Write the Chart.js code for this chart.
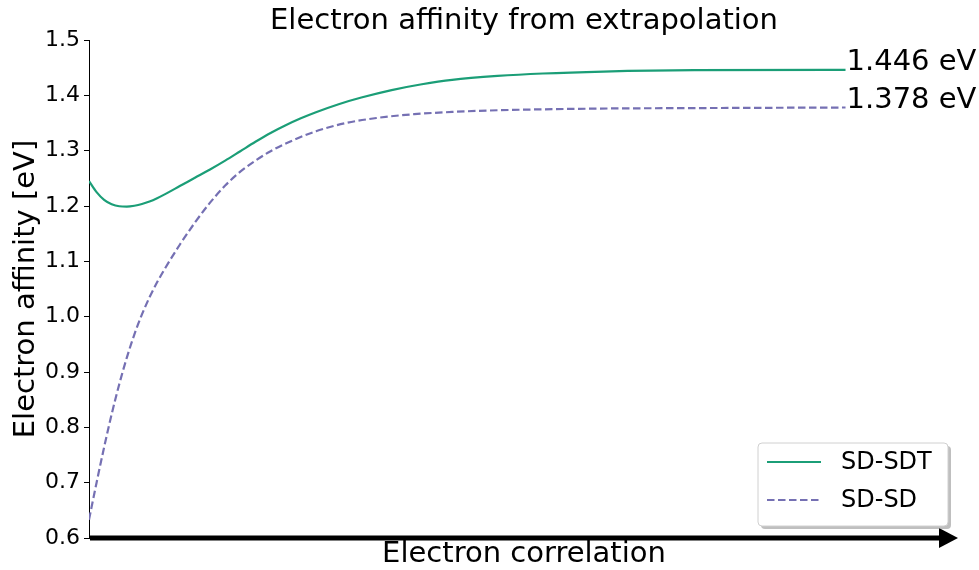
<!DOCTYPE html>
<html>
<head>
<meta charset="utf-8">
<script src="https://cdn.jsdelivr.net/npm/chart.js@4"></script>
<style>
  html, body { margin: 0; padding: 0; background: #fff; }
  #wrap { width: 979px; height: 570px; }
</style>
</head>
<body>
<div id="wrap"><canvas id="chart" width="979" height="570"></canvas></div>
<script>
// correlation level (arbitrary units, 0 = none, 100 = converged)
const sdsdtX = [0, 1, 2, 3, 4, 5, 6, 7, 8, 9, 10, 12, 14, 16, 18, 20, 22, 24, 26, 28, 30, 33, 36, 40, 44, 48, 54, 60, 68, 80, 100];
const sdsdtY = [1.245, 1.225, 1.211, 1.203, 1.1995, 1.199, 1.2005, 1.2035, 1.208, 1.214, 1.221, 1.236, 1.251, 1.266, 1.282, 1.299, 1.316, 1.332, 1.346, 1.3585, 1.3695, 1.384, 1.396, 1.4095, 1.420, 1.428, 1.435, 1.4395, 1.443, 1.4455, 1.446];

const sdsdX = [0, 1, 2, 3, 4, 5, 6, 7, 8, 9, 10, 12, 14, 16, 18, 20, 22, 24, 27, 30, 34, 38, 43, 48, 54, 67, 81, 100];
const sdsdY = [0.633, 0.700, 0.764, 0.824, 0.878, 0.926, 0.968, 1.004, 1.035, 1.062, 1.086, 1.130, 1.170, 1.206, 1.237, 1.262, 1.282, 1.299, 1.319, 1.335, 1.350, 1.359, 1.366, 1.370, 1.373, 1.376, 1.377, 1.378];

const seriesNames = ['SD-SDT', 'SD-SD'];
const seriesColors = ['#1b9e77', '#7570b3'];
const yTicks = { min: 0.6, max: 1.5, step: 0.1 };
const xRange = { min: 0, max: 115 };

const toPoints = (xs, ys) => xs.map((x, i) => ({ x: x, y: ys[i] }));

// arrow on the x axis + final-value labels + legend box
const decorations = {
    id: 'decorations',
    afterDatasetsDraw(chart) {
        const ctx = chart.ctx;
        const area = chart.chartArea;
        const xs = chart.scales.x;
        const ys = chart.scales.y;
        ctx.save();

        // axis arrow
        const ay = area.bottom;
        const tip = area.right - 1;
        ctx.strokeStyle = '#000';
        ctx.lineWidth = 5;
        ctx.beginPath();
        ctx.moveTo(area.left + 1, ay);
        ctx.lineTo(tip - 18, ay);
        ctx.stroke();
        ctx.fillStyle = '#000';
        ctx.beginPath();
        ctx.moveTo(tip, ay);
        ctx.lineTo(tip - 19, ay - 10);
        ctx.lineTo(tip - 19, ay + 10);
        ctx.closePath();
        ctx.fill();

        // value labels at the end of each curve
        ctx.font = '29px "DejaVu Sans"';
        ctx.textAlign = 'left';
        ctx.textBaseline = 'alphabetic';
        chart.data.datasets.forEach(ds => {
            const last = ds.data[ds.data.length - 1];
            ctx.fillText(last.y.toFixed(3) + ' eV', xs.getPixelForValue(last.x) + 1, ys.getPixelForValue(last.y));
        });

        // legend
        const bx = 758, by = 443, bw = 190, bh = 83, r = 4;
        const box = (x, y) => {
            ctx.beginPath();
            ctx.roundRect(x, y, bw, bh, r);
        };
        ctx.fillStyle = 'rgba(128,128,128,0.5)';
        box(bx + 3, by + 3);
        ctx.fill();
        ctx.fillStyle = '#fff';
        ctx.strokeStyle = '#d0d0d0';
        ctx.lineWidth = 1;
        box(bx, by);
        ctx.fill();
        ctx.stroke();

        ctx.font = '24px "DejaVu Sans"';
        ctx.textBaseline = 'middle';
        chart.data.datasets.forEach((ds, i) => {
            const ly = 462 + i * 38;
            ctx.strokeStyle = ds.borderColor;
            ctx.lineWidth = ds.borderWidth;
            ctx.setLineDash(ds.borderDash || []);
            ctx.beginPath();
            ctx.moveTo(767, ly);
            ctx.lineTo(821, ly);
            ctx.stroke();
            ctx.setLineDash([]);
            ctx.fillStyle = '#000';
            ctx.fillText(ds.label, 841, ly + 1);
        });
        ctx.restore();
    }
};

new Chart(document.getElementById('chart'), {
    type: 'line',
    data: {
        datasets: [
            {
                label: seriesNames[0],
                data: toPoints(sdsdtX, sdsdtY),
                borderColor: seriesColors[0],
                borderWidth: 2.2,
                pointRadius: 0,
                cubicInterpolationMode: 'monotone',
                fill: false,
            },
            {
                label: seriesNames[1],
                data: toPoints(sdsdX, sdsdY),
                borderColor: seriesColors[1],
                borderWidth: 2.2,
                borderDash: [7.5, 3.5],
                pointRadius: 0,
                cubicInterpolationMode: 'monotone',
                fill: false,
            },
        ],
    },
    options: {
        responsive: false,
        animation: false,
        layout: {
            padding: { left: 0, right: 20, top: 0, bottom: 0 },
        },
        plugins: {
            legend: { display: false },
            tooltip: { enabled: false },
            title: {
                display: true,
                fullSize: false,
                text: 'Electron affinity from extrapolation',
                color: '#000',
                font: { family: 'DejaVu Sans', size: 29, weight: 'normal' },
                padding: { top: 4, bottom: 1.2 },
            },
        },
        scales: {
            x: {
                type: 'linear',
                min: xRange.min,
                max: xRange.max,
                grid: { display: false },
                border: { display: false },
                ticks: { display: false },
                title: {
                    display: true,
                    text: 'Electron correlation',
                    color: '#000',
                    font: { family: 'DejaVu Sans', size: 29, lineHeight: 1.1 },
                    padding: { top: 0, bottom: 0 },
                },
                afterFit: scale => { scale.height = 32; },
            },
            y: {
                type: 'linear',
                min: yTicks.min,
                max: yTicks.max,
                grid: {
                    display: true,
                    drawOnChartArea: false,
                    drawTicks: true,
                    tickLength: 5,
                    color: '#000',
                },
                border: { display: true, color: '#000', width: 1 },
                ticks: {
                    stepSize: yTicks.step,
                    color: '#000',
                    padding: 4,
                    font: { family: 'DejaVu Sans', size: 22 },
                    callback: v => v.toFixed(1),
                },
                title: {
                    display: true,
                    text: 'Electron affinity [eV]',
                    color: '#000',
                    font: { family: 'DejaVu Sans', size: 29 },
                    padding: { top: 9, bottom: 0 },
                },
                afterFit: scale => { scale.width = 89; },
            },
        },
    },
    plugins: [decorations],
});
</script>
</body>
</html>
